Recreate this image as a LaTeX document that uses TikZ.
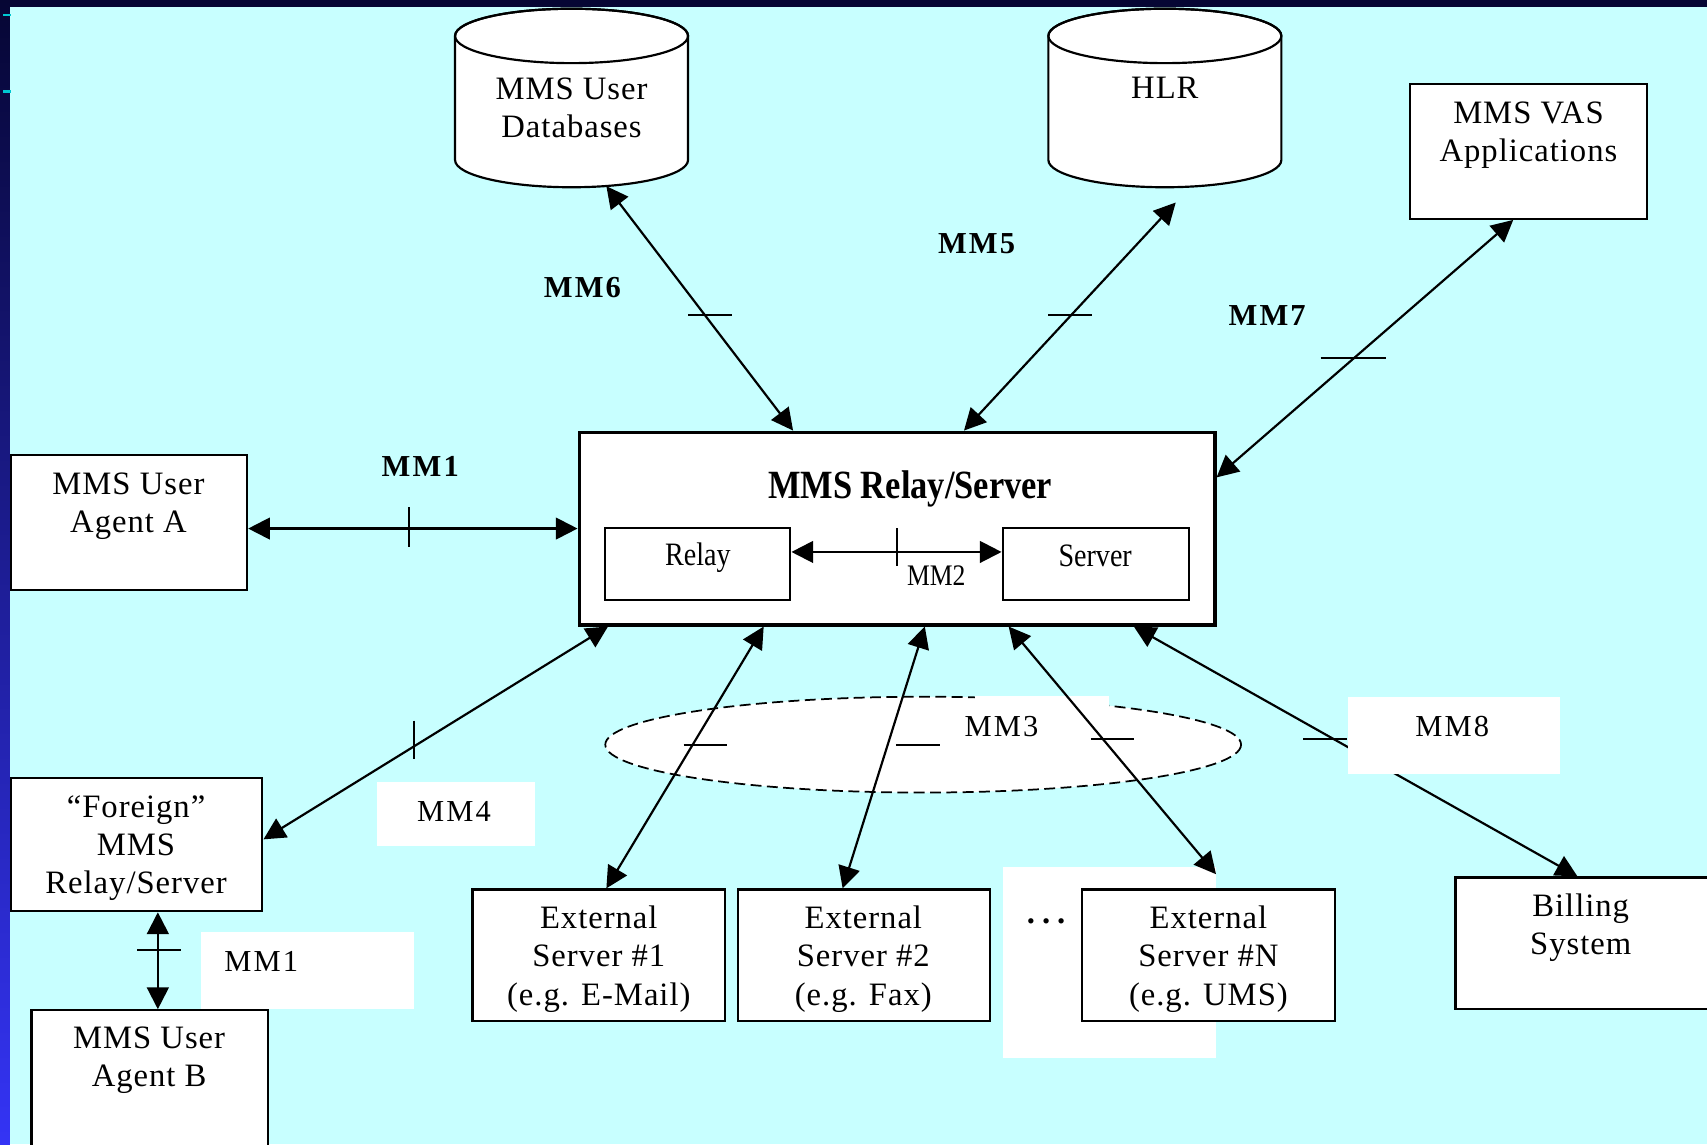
\documentclass[tikz,border=0pt]{standalone}
\usepackage{fontspec}
\setmainfont{Liberation Serif}
\newfontfamily\txtfont{Liberation Serif}[LetterSpace=3]
\newfontfamily\lblfont{Liberation Serif}[LetterSpace=7]
\newfontfamily\condfont{Liberation Serif}[FakeStretch=0.86]
\usetikzlibrary{arrows.meta,calc,fit}
\definecolor{bgcyan}{RGB}{200,255,255}
\definecolor{navy}{RGB}{6,6,52}
\definecolor{stripblue}{RGB}{52,52,245}
\definecolor{markcyan}{RGB}{0,200,210}
\begin{document}
\begin{tikzpicture}[x=0.5pt,y=-0.5pt,
  box/.style={draw=black, fill=white, line width=1pt, inner sep=0pt},
  bigbox/.style={draw=black, fill=white, line width=1.5pt, inner sep=0pt},
  whitebox/.style={fill=white, inner sep=0pt},
  txt/.style={align=center, inner sep=0pt, font=\txtfont\fontsize{15}{17.5}\selectfont},
  lbl/.style={inner sep=0pt, font=\lblfont\fontsize{14}{16}\selectfont},
  lblb/.style={inner sep=0pt, font=\lblfont\bfseries\fontsize{14}{16}\selectfont},
  cond/.style={inner sep=0pt, font=\condfont\fontsize{15}{17.5}\selectfont},
  conn/.style={line width=1pt, {Triangle[length=10pt,width=10pt]}-{Triangle[length=10pt,width=10pt]}},
  tick/.style={line width=1pt},
  cyl/.style={draw=black, fill=white, line width=1pt}]
% background
\useasboundingbox (0,0) rectangle (1568,1051);
\fill[bgcyan] (0,0) rectangle (1568,1051);
\fill[navy] (0,0) rectangle (1568,6.5);
\shade[top color=navy, bottom color=stripblue] (0,0) rectangle (9,1051);
\draw[markcyan, line width=1pt] (3,14) -- (10,14);
\draw[markcyan, line width=1pt] (3,84) -- (10,84);

% cylinders
\filldraw[cyl] (418,33) -- (418,147) arc[start angle=180,end angle=0,x radius=107,y radius=25] -- (632,33) arc[start angle=0,end angle=-180,x radius=107,y radius=25] -- cycle;
\draw[line width=1pt] (525,33) ellipse[x radius=107,y radius=25];
\node[txt] (dbT) at (525,99) {MMS User\\Databases};
\filldraw[cyl] (963,33) -- (963,147) arc[start angle=180,end angle=0,x radius=107,y radius=25] -- (1177,33) arc[start angle=0,end angle=-180,x radius=107,y radius=25] -- cycle;
\draw[line width=1pt] (1070,33) ellipse[x radius=107,y radius=25];
\node[txt] (hlrT) at (1070,81) {HLR};
\coordinate (db) at (557,171);
\coordinate (hlr) at (1080,186);

% boxes
\node[box, fit={(1295,77) (1513,201)}] (vas) {};
\node[txt] (vasT) at (1404,124.5) {MMS VAS\\Applications};
\node[bigbox, fit={(532,397) (1116,574)}] (rs) {};
\node[inner sep=0pt, font=\condfont\bfseries\fontsize{18.4}{22}\selectfont] (rsT) at (836,449) {MMS Relay/Server};
\node[box, fit={(556,485) (726,551)}] (relay) {};
\node[cond] (relayT) at (641,512) {Relay};
\node[box, fit={(921,485) (1092,551)}] (server) {};
\node[cond] (serverT) at (1006,511) {Server};
\node[box, fit={(10,418) (227,542)}] (uaa) {};
\node[txt] (uaaT) at (118,465) {MMS User\\Agent A};
\node[box, fit={(10,715) (241,837)}] (foreign) {};
\node[txt] (foreignT) at (125,779) {“Foreign”\\MMS\\Relay/Server};
\node[whitebox, fit={(185,856) (380,927)}] (mm1box) {};
\node[box, fit={(29,928) (246,1060)}] (uab) {};
\node[txt] (uabT) at (137,974) {MMS User\\Agent B};

\node[whitebox, fit={(921,796) (1117,972)}] (dotsbox) {};
\node[txt, font=\txtfont\bfseries\fontsize{15}{17.5}\selectfont] (dots) at (961,846) {.\hspace{3.2pt}.\hspace{3.2pt}.};
\node[box, fit={(434,817) (666,938)}] (ext1) {};
\node[txt] (ext1T) at (550,881) {External\\Server \#1\\(e.g. E-Mail)};
\node[box, fit={(678,817) (909,938)}] (ext2) {};
\node[txt] (ext2T) at (793,881) {External\\Server \#2\\(e.g. Fax)};
\node[box, fit={(994,817) (1226,938)}] (extN) {};
\node[txt] (extNT) at (1110,881) {External\\Server \#N\\(e.g. UMS)};
\node[box, fit={(1337,806) (1572,927)}] (bill) {};
\node[txt] (billT) at (1452,852.5) {Billing\\System};
\coordinate (extNarr) at (1117,803);

% MM3 ellipse
\filldraw[fill=white, draw=black, line width=0.8pt, dash pattern=on 5pt off 2.5pt] (848,684) ellipse[x radius=292,y radius=44];
\fill[white] (896,639) rectangle (1019,690);

% connectors
\draw[conn] (db) -- ($(rs.north west)+(198,0)$);
\draw[conn] (hlr) -- ($(rs.north west)+(355,0)$);
\draw[conn] ($(vas.south west)+(96,0)$) -- ($(rs.north east)+(0,43)$);
\draw[conn] (uaa.east |- rs.west) -- (rs.west);
\draw[conn] ($(relay.east)+(0,-11)$) -- ($(server.west)+(0,-11)$);
\draw[conn] ($(rs.south west)+(28,0)$) -- ($(foreign.north east)+(0,57)$);
\draw[conn] ($(foreign.south west)+(136,0)$) -- ($(uab.north west)+(117,0)$);
\draw[conn] ($(rs.south west)+(171,0)$) -- ($(ext1.north west)+(124,0)$);
\draw[conn] ($(rs.south west)+(319,0)$) -- ($(ext2.north west)+(97,0)$);
\draw[conn] ($(rs.south west)+(396,0)$) -- (extNarr);
\draw[conn] ($(rs.south west)+(511,0)$) -- ($(bill.north west)+(113,0)$);

% white label boxes
\node[whitebox, fit={(1238,640) (1433,711)}] (mm8box) {};
\node[whitebox, fit={(346,718) (491,777)}] (mm4box) {};

% ticks
\draw[tick] (632,289) -- (672,289);
\draw[tick] (963,289) -- (1003,289);
\draw[tick] (1213,329) -- (1273,329);
\draw[tick] (376,466) -- (376,502);
\draw[tick] (824,485) -- (824,520);
\draw[tick] (380,662) -- (380,697);
\draw[tick] (126,873) -- (166,873);
\draw[tick] (628,684) -- (668,684);
\draw[tick] (823,684) -- (863,684);
\draw[tick] (1002,679) -- (1042,679);
\draw[tick] (1197,679) -- (1237,679);

% labels
\node[lblb] (mm6) at (535,264) {MM6};
\node[lblb] (mm5) at (897,224) {MM5};
\node[lblb] (mm7) at (1164,290) {MM7};
\node[lblb] (mm1a) at (386,428) {MM1};
\node[cond, font=\condfont\fontsize{13.7}{16}\selectfont] (mm2) at (860,529) {MM2};
\node[lbl] (mm3) at (920,667) {MM3};
\node[lbl] (mm4) at (417,745) {MM4};
\node[lbl] (mm1b) at (240,883) {MM1};
\node[lbl] (mm8) at (1334,667) {MM8};
\end{tikzpicture}
\end{document}
